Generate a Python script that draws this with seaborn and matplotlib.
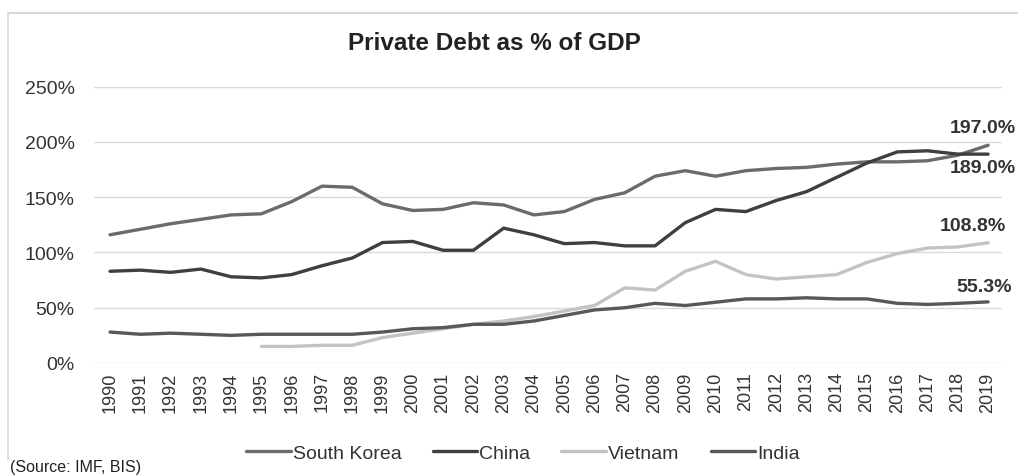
import numpy as np
import pandas as pd
import seaborn as sns
import matplotlib
matplotlib.use("Agg")
import matplotlib.pyplot as plt
from matplotlib.lines import Line2D

years = list(range(1990, 2020))
south_korea = [116, 121, 126, 130, 134, 135, 146, 160, 159, 144, 138, 139, 145, 143, 134,
               137, 148, 154, 169, 174, 169, 174, 176, 177, 180, 182, 182, 183, 188, 197.0]
china = [83, 84, 82, 85, 78, 77, 80, 88, 95, 109, 110, 102, 102, 122, 116,
         108, 109, 106, 106, 127, 139, 137, 147, 155, 168, 181, 191, 192, 189, 189.0]
vietnam = [np.nan] * 5 + [15, 15, 16, 16, 23, 27, 31, 35, 38, 42,
                          47, 52, 68, 66, 83, 92, 80, 76, 78, 80, 91, 99, 104, 105, 108.8]
india = [28, 26, 27, 26, 25, 26, 26, 26, 26, 28, 31, 32, 35, 35, 38,
         43, 48, 50, 54, 52, 55, 58, 58, 59, 58, 58, 54, 53, 54, 55.3]
series_names = ["South Korea", "China", "Vietnam", "India"]
end_labels = ["197.0%", "189.0%", "108.8%", "55.3%"]

df = pd.DataFrame({"Year": years, "South Korea": south_korea, "China": china,
                   "Vietnam": vietnam, "India": india})
long = df.melt(id_vars="Year", var_name="Series", value_name="Value")

sns.set_theme(style="white")
plt.rcParams["font.family"] = ["Liberation Sans", "DejaVu Sans"]

palette = {"South Korea": "#6b6b6b", "China": "#3f3f3f", "Vietnam": "#c3c3c3", "India": "#585858"}

fig = plt.figure(figsize=(10.18, 4.77), dpi=100)
ax = fig.add_axes([94 / 1018, 1 - 364 / 477, (1002 - 94) / 1018, (364 - 87.7) / 477])

sns.lineplot(data=long, x="Year", y="Value", hue="Series", hue_order=series_names,
             palette=palette, linewidth=2.4, ax=ax, legend=True)

ax.set_xlim(1989.47, 2019.46)
ax.set_ylim(0, 250)
ax.set_yticks([0, 50, 100, 150, 200, 250])
ax.set_yticklabels([f"{v}%" for v in [0, 50, 100, 150, 200, 250]], fontsize=14, color="#333333")
ax.set_xticks(years)
ax.set_xticklabels([str(y) for y in years], rotation=90, fontsize=13, color="#333333")
ax.tick_params(axis="both", length=0, pad=6)
ax.tick_params(axis="y", pad=14)
ax.grid(axis="y", color="#d9d9d9", linewidth=1)
ax.set_axisbelow(True)
for s in ax.spines.values():
    s.set_visible(False)
ax.set_xlabel("")
ax.set_ylabel("")

# end labels
label_pos = [(2017.75, 213), (2017.75, 177), (2017.4, 124), (2017.95, 69)]
for (x, y), txt in zip(label_pos, end_labels):
    ax.text(x, y, txt, fontsize=14, fontweight="bold", color="#333333",
            va="center", ha="left", clip_on=False)

# legend
handles, labels = ax.get_legend_handles_labels()
ax.legend_.remove()
fig.legend(handles, labels, loc="center", bbox_to_anchor=(523 / 1018, 1 - 454 / 477),
           ncol=4, frameon=False, fontsize=14, handlelength=2.3, handletextpad=0.1,
           columnspacing=1.6, labelcolor="#333333")

fig.text(494 / 1018, 1 - 43 / 477, "Private Debt as % of GDP", fontsize=17.5,
         fontweight="bold", ha="center", va="center", color="#222222")
fig.text(10 / 1018, 1 - 475 / 477, "(Source: IMF, BIS)", fontsize=11.5, ha="left",
         va="bottom", color="#222222")

# frame
fig.add_artist(Line2D([8 / 1018, 1], [1 - 13.5 / 477, 1 - 13.5 / 477], color="#d0d0d0",
                      linewidth=1.2, transform=fig.transFigure))
fig.add_artist(Line2D([8 / 1018, 8 / 1018], [1 - 13.5 / 477, 1 - 460 / 477], color="#d9d9d9",
                      linewidth=1.2, transform=fig.transFigure))

fig.savefig("out.png", dpi=100)
